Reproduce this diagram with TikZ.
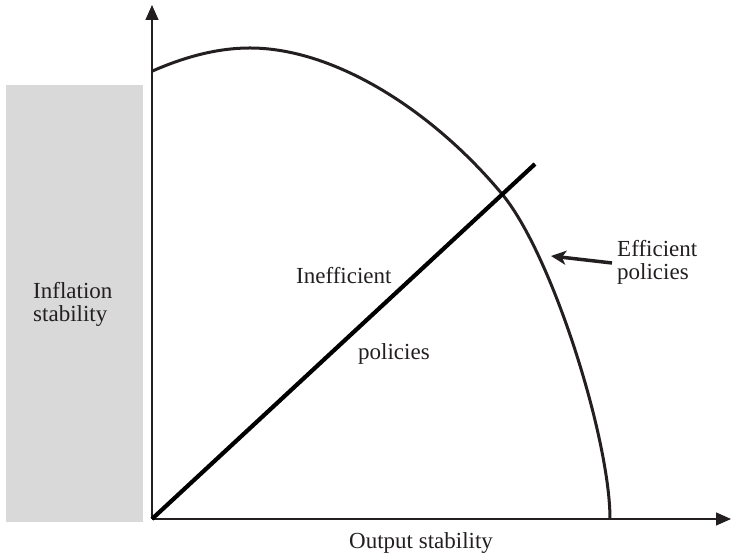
\documentclass[tikz,border=0pt]{standalone}
\usepackage{fontspec}
\setmainfont{Liberation Serif}
\usetikzlibrary{arrows.meta}
\definecolor{ink}{HTML}{231F20}
\definecolor{panel}{HTML}{D9D9D9}
\begin{document}
\begin{tikzpicture}[x=1pt,y=1pt,
 axis/.style={line width=1.3pt, draw=ink, -{Triangle[length=15pt,width=13pt]}},
 lbl/.style={text=ink, font=\fontsize{23}{23}\selectfont, inner sep=0pt, align=left},
 frontier/.style={line width=3pt, draw=ink},
 ray/.style={line width=4.2pt, draw=black},
 pointer/.style={line width=3.5pt, draw=ink, -{Stealth[length=15pt,width=14pt,inset=4pt]}}]
\useasboundingbox (0,0) rectangle (732,559);
\fill[panel] (6,37) rectangle (143,474);
\coordinate (O) at (152,40);
\coordinate (ytip) at (152,554);
\coordinate (xtip) at (731,40);
\coordinate (rayend) at (535,395);
\coordinate (ptail) at (612,296);
\coordinate (ptip) at (551,303);
\coordinate (fstart) at (152.5,488);
\coordinate (fpeak) at (250,511);
\coordinate (fmid) at (502,365);
\coordinate (fend) at (610,40);
\draw[axis] (O) -- (ytip);
\draw[axis] (O) -- (xtip);
\draw[frontier] (fstart) .. controls (184.5,502) and (217,511) .. (fpeak)
  .. controls (334,511) and (432,449) .. (fmid)
  .. controls (552,305) and (610,120) .. (fend);
\draw[ray] (O) -- (rayend);
\draw[pointer] (ptail) -- (ptip);
\node[lbl, anchor=base west] (infl) at (33,237) {Inflation\\stability};
\node[lbl, anchor=base west] (ineff) at (296,275) {Inefficient};
\node[lbl, anchor=base west] (pol) at (358,199) {policies};
\node[lbl, anchor=base west] (eff) at (617,279) {Efficient\\policies};
\node[lbl, anchor=base west] (out) at (349,10) {Output stability};
\end{tikzpicture}
\end{document}
